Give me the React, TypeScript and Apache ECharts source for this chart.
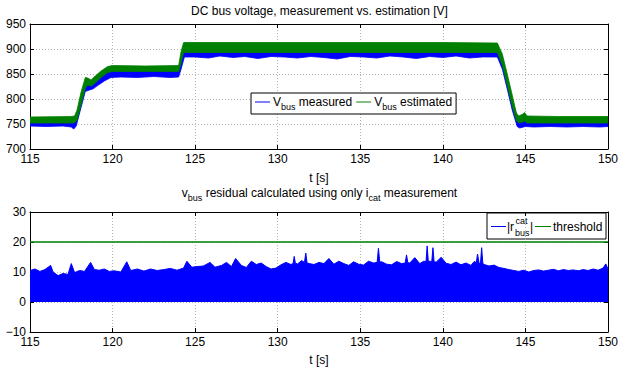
import React, { useEffect, useRef } from "react";
import * as echarts from "echarts";

// ---- axes ----
const X_MIN = 115;
const X_MAX = 150;
const X_STEP = 5;
const TOP_Y_MIN = 700;
const TOP_Y_MAX = 950;
const TOP_Y_STEP = 50;
const BOT_Y_MIN = -10;
const BOT_Y_MAX = 30;
const BOT_Y_STEP = 10;

// ---- top: V_bus measured (blue band: upper / lower envelope) ----
const measT = [115, 116, 117, 117.5, 117.65, 117.8, 118.05, 118.35, 118.6, 118.8, 119.1, 119.5, 119.9, 120.5, 121.5, 122.5, 123.5, 124.0, 124.15, 124.35, 125, 125.8, 126.5, 127.3, 128, 128.8, 129.6, 130.4, 131.2, 132, 132.8, 133.6, 134.4, 135.2, 136, 136.8, 137.6, 138.4, 139.2, 140, 140.8, 141.6, 142.4, 143.3, 143.6, 143.9, 144.2, 144.5, 144.65, 145, 145.5, 146.5, 147.5, 148.5, 149.5, 150];
const measHigh = [758, 758, 758, 758, 757, 765, 800, 834, 832, 834, 842, 852, 858, 858, 858, 858, 858, 858, 880, 904, 904, 904, 904, 904, 904, 904, 904, 904, 904, 904, 904, 904, 904, 904, 904, 904, 904, 904, 904, 904, 904, 904, 904, 904, 880, 840, 798, 765, 760, 758, 758, 758, 758, 758, 758, 758];
const measLow = [746, 745, 746, 744, 740, 746, 778, 815, 818, 820, 827, 836, 843, 844, 843, 845, 843, 844, 860, 884, 884, 882, 886, 883, 885, 881, 885, 884, 882, 885, 883, 880, 885, 884, 882, 886, 884, 881, 885, 883, 886, 882, 884, 884, 860, 820, 778, 745, 742, 745, 744, 745, 744, 745, 744, 745];

// ---- top: V_bus estimated (green band) ----
const estT = [115, 117.5, 117.7, 117.85, 118.1, 118.35, 118.5, 118.7, 118.95, 119.3, 119.7, 120, 122, 124.0, 124.15, 124.3, 125, 130, 135, 140, 143.3, 143.6, 143.9, 144.2, 144.45, 144.6, 144.85, 144.95, 145.1, 147, 150];
const estHigh = [764, 765, 766, 778, 815, 843, 842, 838, 846, 856, 865, 867, 866, 867, 895, 913, 913, 913, 913, 913, 912, 890, 850, 808, 772, 766, 770, 773, 766, 765, 765];
const estLow = [752, 752, 752, 758, 790, 822, 828, 826, 832, 843, 853, 855, 855, 855, 872, 893, 893, 893, 893, 893, 893, 868, 828, 786, 757, 752, 754, 756, 752, 752, 752];

// ---- bottom: |r_bus^cat| envelope and threshold ----
const residT = [115.0, 115.3, 115.6, 115.9, 116.25, 116.4, 116.7, 117.0, 117.3, 117.5, 117.7, 118.0, 118.3, 118.67, 118.9, 119.2, 119.5, 119.8, 120.1, 120.5, 120.86, 121.1, 121.5, 121.9, 122.3, 122.7, 123.1, 123.5, 123.9, 124.3, 124.5, 124.8, 125.1, 125.5, 125.9, 126.2, 126.6, 126.9, 127.2, 127.45, 127.8, 128.1, 128.4, 128.7, 129.0, 129.3, 129.6, 129.9, 130.2, 130.5, 130.8, 130.93, 131.0, 131.07, 131.2, 131.45, 131.62, 131.7, 131.78, 131.9, 132.2, 132.5, 132.8, 133.1, 133.4, 133.7, 134.0, 134.3, 134.6, 134.9, 135.2, 135.5, 135.8, 136.02, 136.1, 136.18, 136.3, 136.6, 136.9, 137.2, 137.5, 137.72, 137.8, 137.88, 138.0, 138.3, 138.6, 138.85, 138.98, 139.05, 139.12, 139.2, 139.33, 139.4, 139.47, 139.6, 139.9, 140.2, 140.5, 140.8, 141.1, 141.4, 141.7, 141.9, 142.03, 142.1, 142.2, 142.28, 142.35, 142.42, 142.5, 142.8, 143.1, 143.4, 143.7, 144.0, 144.3, 144.6, 144.9, 145.2, 145.5, 145.8, 146.1, 146.4, 146.7, 147.0, 147.3, 147.6, 147.9, 148.2, 148.5, 148.8, 149.1, 149.4, 149.7, 149.87, 150.0];
const residUpper = [10.5, 11.0, 10.2, 10.8, 12.2, 10.0, 8.8, 9.5, 9.2, 12.8, 9.8, 10.5, 10.2, 13.2, 10.8, 10.6, 11.0, 10.2, 10.4, 10.0, 13.4, 10.5, 11.0, 10.3, 11.0, 10.5, 10.8, 11.2, 10.6, 11.3, 13.6, 11.6, 11.8, 12.0, 13.2, 11.6, 12.2, 13.2, 11.8, 14.5, 12.2, 11.5, 13.6, 12.5, 13.0, 11.8, 11.0, 11.3, 12.4, 13.2, 12.5, 12.8, 15.2, 12.9, 12.7, 13.8, 13.2, 16.3, 13.0, 12.8, 12.5, 13.2, 12.8, 14.5, 12.6, 13.6, 12.8, 12.2, 13.4, 12.6, 12.3, 13.6, 13.0, 13.2, 17.9, 13.3, 13.4, 12.6, 12.4, 13.5, 12.8, 13.0, 15.7, 13.1, 13.0, 14.8, 12.8, 13.6, 13.4, 18.7, 13.5, 13.6, 13.5, 18.1, 13.4, 13.3, 14.9, 12.9, 12.5, 13.3, 12.4, 13.0, 12.2, 13.5, 13.2, 16.0, 12.8, 13.0, 18.1, 12.9, 12.5, 12.0, 12.3, 11.5, 11.2, 10.8, 10.5, 10.2, 10.6, 10.0, 10.5, 10.7, 10.3, 10.6, 10.9, 10.4, 10.8, 10.5, 10.7, 10.4, 10.8, 10.5, 11.0, 10.6, 11.3, 12.7, 11.0];
const thresholdValue = 20;

const BLUE = "#0000ff";
const GREEN = "#008000";
const FONT = "'Liberation Sans', Arial, Helvetica, sans-serif";

function bandSeries(name: string, color: string, tU: number[], vU: number[], tL: number[], vL: number[]) {
  return {
    type: "custom",
    name,
    xAxisIndex: 0,
    yAxisIndex: 0,
    clip: true,
    itemStyle: { color },
    encode: { x: 0, y: 1 },
    data: tU.map((t, i) => [t, vU[i]]),
    renderItem: (params: any, api: any) => {
      if (params.dataIndex !== 0) return null;
      const pts: number[][] = [];
      for (let i = 0; i < tU.length; i++) pts.push(api.coord([tU[i], vU[i]]));
      for (let i = tL.length - 1; i >= 0; i--) pts.push(api.coord([tL[i], vL[i]]));
      return {
        type: "polygon",
        shape: { points: pts },
        style: { fill: color, stroke: color, lineWidth: 0.8 },
      };
    },
  };
}

function xAxes(gridIndex: number) {
  const common = {
    type: "value",
    gridIndex,
    min: X_MIN,
    max: X_MAX,
    interval: X_STEP,
    axisLine: { show: true, onZero: false, lineStyle: { color: "#000", width: 1 } },
    axisTick: { show: true, inside: true, length: 4, lineStyle: { color: "#000" } },
  };
  return [
    {
      ...common,
      position: "bottom",
      name: "t [s]",
      nameLocation: "middle",
      nameGap: gridIndex === 0 ? 23 : 22,
      nameTextStyle: { color: "#000", fontSize: 12, fontFamily: FONT },
      axisLabel: { color: "#000", fontSize: 12, fontFamily: FONT, margin: 4 },
      splitLine: { show: true, lineStyle: { color: "#b4b4b4", type: [1, 2], width: 1 } },
    },
    {
      ...common,
      position: "top",
      axisLabel: { show: false },
      splitLine: { show: false },
    },
  ];
}

function yAxes(gridIndex: number, min: number, max: number, step: number) {
  const common = {
    type: "value",
    gridIndex,
    min,
    max,
    interval: step,
    axisLine: { show: true, onZero: false, lineStyle: { color: "#000", width: 1 } },
    axisTick: { show: true, inside: true, length: 4, lineStyle: { color: "#000" } },
  };
  return [
    {
      ...common,
      position: "left",
      axisLabel: {
        color: "#000",
        fontSize: 12,
        fontFamily: FONT,
        margin: 4,
        formatter: (v: number) => (v < 0 ? "\u2212" + Math.abs(v) : String(v)),
      },
      splitLine: { show: true, lineStyle: { color: "#b4b4b4", type: [1, 2], width: 1 } },
    },
    {
      ...common,
      position: "right",
      axisLabel: { show: false },
      splitLine: { show: false },
    },
  ];
}

const richMain = {
  n: { fontSize: 12, fontFamily: FONT, color: "#000", lineHeight: 18, verticalAlign: "middle" },
  s: { fontSize: 9, fontFamily: FONT, color: "#000", lineHeight: 9, verticalAlign: "bottom" },
};

const xA = [...xAxes(0), ...xAxes(1)];
const yA = [...yAxes(0, TOP_Y_MIN, TOP_Y_MAX, TOP_Y_STEP), ...yAxes(1, BOT_Y_MIN, BOT_Y_MAX, BOT_Y_STEP)];

const option: any = {
  animation: false,
  backgroundColor: "#fff",
  textStyle: { fontFamily: FONT },
  grid: [
    { left: 30, top: 24, width: 579, height: 125, containLabel: false },
    { left: 30, top: 212, width: 579, height: 123, containLabel: false },
  ],
  xAxis: xA,
  yAxis: yA,
  legend: {
    data: ["Vbus measured", "Vbus estimated"],
    left: 251,
    top: 93,
    orient: "horizontal",
    icon: "rect",
    itemWidth: 15,
    itemHeight: 1,
    itemGap: 4,
    padding: [3, 4, 3, 4],
    backgroundColor: "#fff",
    borderColor: "#000",
    borderWidth: 1,
    borderRadius: 0,
    selectedMode: false,
    formatter: (name: string) =>
      name === "Vbus measured" ? "{n|V}{s|bus}{n| measured}" : "{n|V}{s|bus}{n| estimated}",
    textStyle: { color: "#000", fontSize: 12, fontFamily: FONT, padding: [0, 0, 0, -2], rich: richMain },
  },
  graphic: [
    {
      type: "text",
      x: 319.5,
      y: 11,
      z: 10,
      style: {
        text: "DC bus voltage, measurement vs. estimation [V]",
        align: "center",
        verticalAlign: "middle",
        fontSize: 12,
        fontFamily: FONT,
        fill: "#000",
      },
    },
    {
      type: "text",
      x: 319.5,
      y: 193,
      z: 10,
      style: {
        text: "{n|v}{s|bus}{n| residual calculated using only i}{s|cat}{n| measurement}",
        align: "center",
        verticalAlign: "middle",
        rich: richMain,
      },
    },
    {
      type: "group",
      x: 487,
      y: 213,
      z: 10,
      children: [
        { type: "rect", shape: { x: 0, y: 0, width: 119, height: 26 }, style: { fill: "#fff", stroke: "#000", lineWidth: 1 } },
        { type: "line", shape: { x1: 4, y1: 13.5, x2: 19, y2: 13.5 }, style: { stroke: BLUE, lineWidth: 1 } },
        { type: "text", x: 20, y: 13.5, style: { text: "|r", verticalAlign: "middle", fontSize: 12, fontFamily: FONT, fill: "#000" } },
        { type: "text", x: 28.5, y: 7.5, style: { text: "cat", verticalAlign: "middle", fontSize: 9, fontFamily: FONT, fill: "#000" } },
        { type: "text", x: 28, y: 19.5, style: { text: "bus", verticalAlign: "middle", fontSize: 9, fontFamily: FONT, fill: "#000" } },
        { type: "text", x: 43, y: 13.5, style: { text: "|", verticalAlign: "middle", fontSize: 12, fontFamily: FONT, fill: "#000" } },
        { type: "line", shape: { x1: 48, y1: 13.5, x2: 64, y2: 13.5 }, style: { stroke: GREEN, lineWidth: 1 } },
        { type: "text", x: 66, y: 13.5, style: { text: "threshold", verticalAlign: "middle", fontSize: 12, fontFamily: FONT, fill: "#000" } },
      ],
    },
  ],
  series: [
    bandSeries("Vbus measured", BLUE, measT, measHigh, measT, measLow),
    bandSeries("Vbus estimated", GREEN, estT, estHigh, estT, estLow),
    {
      type: "line",
      name: "|r_bus^cat|",
      xAxisIndex: 2,
      yAxisIndex: 2,
      data: residT.map((t, i) => [t, residUpper[i]]),
      symbol: "none",
      lineStyle: { color: BLUE, width: 1 },
      itemStyle: { color: BLUE },
      areaStyle: { color: BLUE, opacity: 1, origin: 0 },
    },
    {
      type: "line",
      name: "threshold",
      xAxisIndex: 2,
      yAxisIndex: 2,
      data: [
        [X_MIN, thresholdValue],
        [X_MAX, thresholdValue],
      ],
      symbol: "none",
      lineStyle: { color: GREEN, width: 1.6 },
      itemStyle: { color: GREEN },
    },
  ],
};

export default function App() {
  const ref = useRef<HTMLDivElement>(null);
  useEffect(() => {
    if (!ref.current) return;
    const chart = echarts.init(ref.current, null, { renderer: "svg" });
    chart.setOption(option);
    return () => chart.dispose();
  }, []);
  return (
    <div
      ref={ref}
      style={{ position: "absolute", left: 0, top: 0, width: 621, height: 367, background: "#fff" }}
    />
  );
}
